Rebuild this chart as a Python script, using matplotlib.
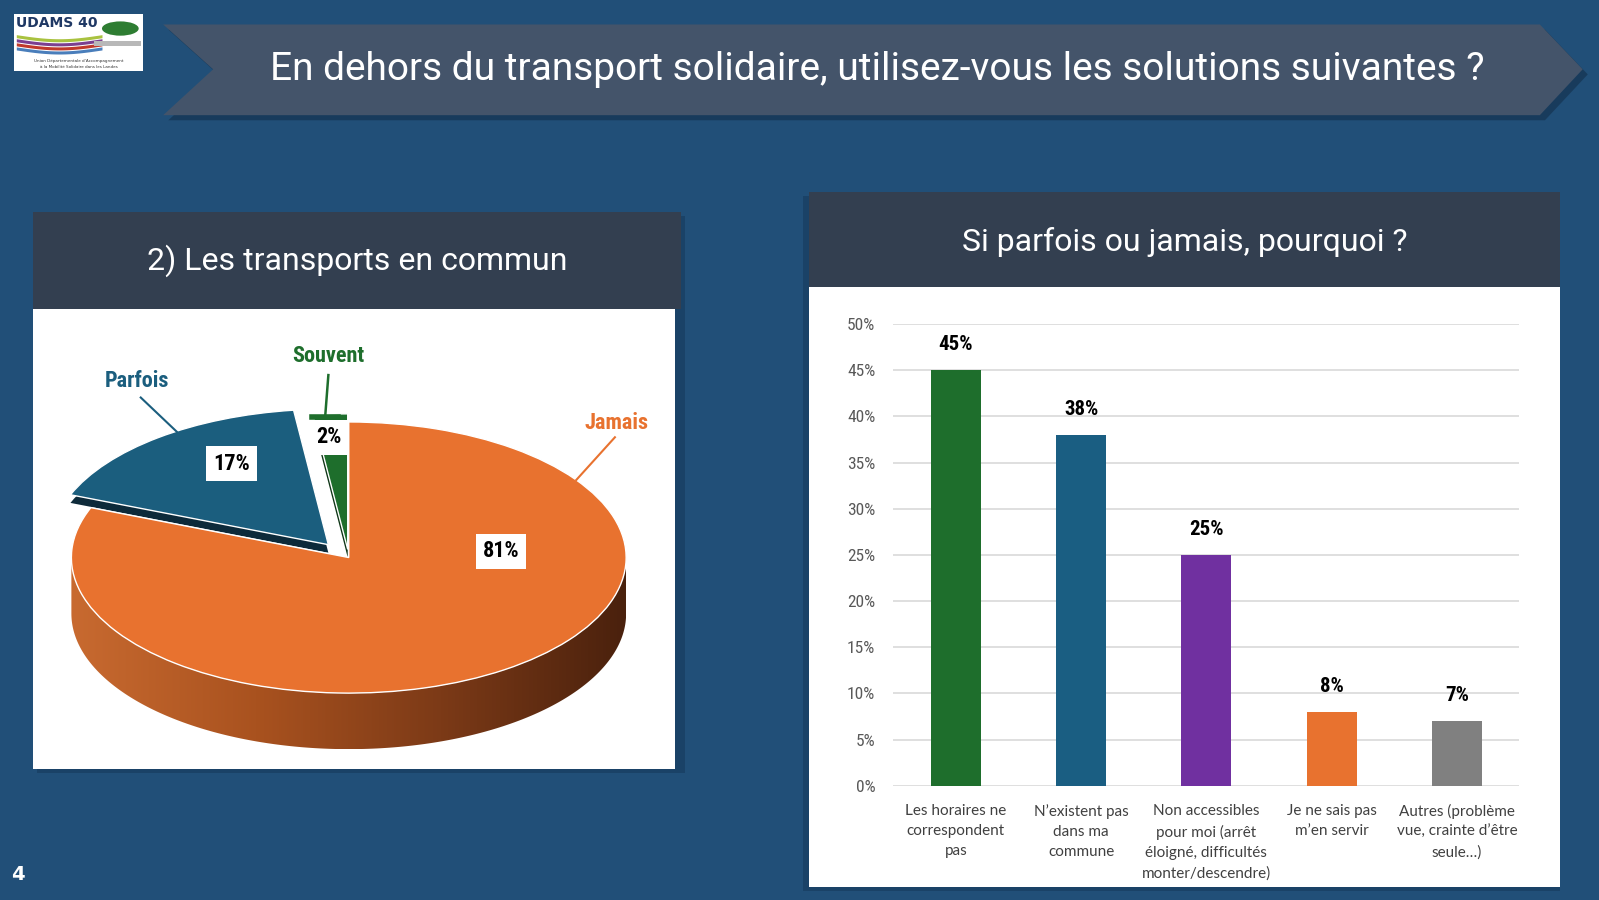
import numpy as np
import matplotlib.pyplot as plt
from matplotlib import font_manager
from matplotlib.patches import Polygon, Rectangle, Ellipse
from matplotlib.colors import LinearSegmentedColormap

# repère de mise en page (coordonnées)
W, H = 1568, 883

# données du camembert
pie_labels = ['Jamais', 'Parfois', 'Souvent']
pie_values = [81, 17, 2]
pie_colors = ['#e8722f', '#1b5e7e', '#1e6e2c']
pie_side_colors = ['none', '#0d2a3a', '#0e3516']
pie_explode = [0, 0.12, 0.06]

# données des barres
bar_labels = ['Les horaires ne\ncorrespondent\npas',
              'N\u2019existent pas\ndans ma\ncommune',
              'Non accessibles\npour moi (arr\u00eat\n\u00e9loign\u00e9, difficult\u00e9s\nmonter/descendre)',
              'Je ne sais pas\nm\u2019en servir',
              'Autres (probl\u00e8me\nvue, crainte d\u2019\u00eatre\nseule\u2026)']
bar_values = [45, 38, 25, 8, 7]
bar_colors = ['#1e6e2c', '#1a5e82', '#7030a0', '#e8722f', '#808080']
y_ticks = [0, 5, 10, 15, 20, 25, 30, 35, 40, 45, 50]

avail = {f.name for f in font_manager.fontManager.ttflist}
def pick(*names):
    return next((n for n in names if n in avail), 'DejaVu Sans')

f_title = pick('Roboto', 'Open Sans')
f_narrow = pick('Liberation Sans Narrow', 'Roboto Condensed', 'Roboto')
f_body = pick('Lato', 'Open Sans')

def box(x0, y0, x1, y1):
    return [x0 / W, 1 - y1 / H, (x1 - x0) / W, (y1 - y0) / H]

fig = plt.figure(figsize=(15.99, 9), dpi=100)
fig.patch.set_facecolor('#214f78')

# fond
bg = fig.add_axes([0, 0, 1, 1], zorder=0)
bg.set_xlim(0, W); bg.set_ylim(H, 0); bg.axis('off')

# bandeau titre
banner = [(160, 24), (1510, 24), (1552, 68), (1510, 113), (160, 113), (209, 68)]
bg.add_patch(Polygon([(x + 5, y + 5) for x, y in banner], closed=True, fc='#132f4a', ec='none', alpha=0.6))
bg.add_patch(Polygon(banner, closed=True, fc='#44546a', ec='none'))
bg.text(860, 68, 'En dehors du transport solidaire, utilisez-vous les solutions suivantes ?',
        ha='center', va='center', color='white', fontsize=28, family=f_title)

# logo
bg.add_patch(Rectangle((14, 14), 126, 56, fc='white', ec='none'))
bg.text(16, 23, 'UDAMS 40', ha='left', va='center', fontsize=10, fontweight='bold', color='#1f3864')
xs = np.linspace(16, 100, 40)
for off, col in [(0, '#a9c23f'), (4, '#7b3f8f'), (8, '#c0392b'), (12, '#4a7ebb')]:
    yb = 34 + off + 4 * np.sin((xs - 16) / 84 * np.pi)
    bg.fill_between(xs, yb, yb + 3, color=col, lw=0)
bg.add_patch(Ellipse((118, 28), 36, 14, fc='#2e7d32', ec='none'))
bg.add_patch(Rectangle((92, 40), 46, 5, fc='#b8b8b8', ec='none'))
bg.text(77, 60, 'Union D\u00e9partementale d\u2019Accompagnement', ha='center', va='center', fontsize=3, color='#333333')
bg.text(77, 66, '\u00e0 la Mobilit\u00e9 Solidaire dans les Landes', ha='center', va='center', fontsize=3, color='#333333')

# panneau gauche
bg.add_patch(Rectangle((36, 212), 636, 546, fc='#163a5c', ec='none', alpha=0.6))
bg.add_patch(Rectangle((32, 208), 636, 95, fc='#333f50', ec='none'))
bg.add_patch(Rectangle((32, 303), 630, 451, fc='white', ec='none'))
bg.text(350, 256, '2) Les transports en commun', ha='center', va='center',
        color='white', fontsize=23, family=f_title)

# panneau droit
bg.add_patch(Rectangle((787, 192), 743, 682, fc='#163a5c', ec='none', alpha=0.6))
bg.add_patch(Rectangle((793, 188), 737, 94, fc='#333f50', ec='none'))
bg.add_patch(Rectangle((793, 282), 737, 588, fc='white', ec='none'))
bg.text(1162, 237, 'Si parfois ou jamais, pourquoi ?', ha='center', va='center',
        color='white', fontsize=23, family=f_title)

bg.text(18, 858, '4', ha='center', va='center', color='white', fontsize=14, fontweight='bold')

# camembert 3D approximatif
cx, cy, a, b = 342, 547, 272, 133
depth = 55 / b
pax = fig.add_axes(box(32, 303, 662, 754), zorder=1)
pax.axis('off')
pax.pie(pie_values, explode=pie_explode, colors=pie_side_colors, startangle=90,
        counterclock=False, center=(0, -0.06))
t = np.linspace(np.pi, 2 * np.pi, 200)
side = np.vstack([np.column_stack([np.cos(t), np.sin(t) - depth]),
                  np.column_stack([np.cos(t[::-1]), np.sin(t[::-1])])])
side_patch = Polygon(side, closed=True, fc='none', ec='none')
pax.add_patch(side_patch)
cmap = LinearSegmentedColormap.from_list('side', ['#c86a30', '#a9521f', '#7c3a17', '#4a210d'])
grad = np.linspace(0, 1, 256).reshape(1, -1)
im = pax.imshow(grad, cmap=cmap, extent=(-1, 1, -1 - depth, 0), aspect='auto', zorder=1)
im.set_clip_path(side_patch)
wedges, _ = pax.pie(pie_values, explode=pie_explode, colors=pie_colors, startangle=90,
                    counterclock=False, wedgeprops=dict(edgecolor='white', linewidth=1))
for w in wedges:
    w.set_zorder(2)
pax.set_aspect('auto')
pax.set_xlim((32 - cx) / a, (662 - cx) / a)
pax.set_ylim((cy - 754) / b, (cy - 303) / b)

# barres
bax = fig.add_axes(box(876, 318, 1490, 771), zorder=1)
bax.set_facecolor('none')
x = np.arange(len(bar_values))
bax.bar(x, bar_values, width=0.4, color=bar_colors, zorder=3)
bax.set_xlim(-0.5, len(bar_values) - 0.5)
bax.set_ylim(0, 50)
bax.set_yticks(y_ticks, [f'{v}%' for v in y_ticks], fontsize=12.5, color='#595959', family=f_narrow)
bax.set_xticks(x, bar_labels, fontsize=11, color='#404040', family=f_body, linespacing=1.55)
bax.tick_params(length=0)
bax.tick_params(axis='y', pad=13)
bax.tick_params(axis='x', pad=13)
bax.yaxis.grid(True, color='#d9d9d9', lw=1.2)
bax.set_axisbelow(True)
for s in bax.spines.values():
    s.set_visible(False)
for xi, v in zip(x, bar_values):
    bax.text(xi, v + 2.8, f'{v}%', ha='center', va='center', fontsize=15,
             fontweight='bold', color='black', family=f_narrow)

# étiquettes du camembert
ov = fig.add_axes([0, 0, 1, 1], zorder=3)
ov.set_facecolor('none')
ov.set_xlim(0, W); ov.set_ylim(H, 0); ov.axis('off')
pct_pos = [(491, 541), (227, 455), (323, 429)]
name_pos = [(605, 415), (134, 374), (322, 349)]
for lab, v, col, (px, py), (nx, ny) in zip(pie_labels, pie_values, pie_colors, pct_pos, name_pos):
    ov.text(px, py, f'{v}%', ha='center', va='center', fontsize=16, fontweight='bold',
            color='black', family=f_narrow,
            bbox=dict(fc='white', ec='none', boxstyle='square,pad=0.3'))
    ov.text(nx, ny, lab, ha='center', va='center', fontsize=16, fontweight='bold',
            color=col, family=f_narrow)
ov.plot([603, 565], [429, 471], color=pie_colors[0], lw=1.5)
ov.plot([138, 178], [390, 428], color=pie_colors[1], lw=1.5)
ov.plot([322, 319], [368, 407], color=pie_colors[2], lw=1.8)
ov.plot([306, 331], [409, 409], color=pie_colors[2], lw=4)

fig.savefig('out.png', dpi=100, facecolor=fig.get_facecolor())
